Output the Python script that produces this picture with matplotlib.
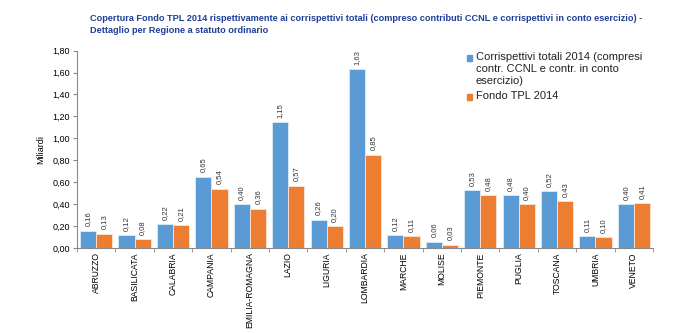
import matplotlib.pyplot as plt
from matplotlib.patches import Rectangle
import numpy as np

regioni = ["ABRUZZO", "BASILICATA", "CALABRIA", "CAMPANIA", "EMILIA-ROMAGNA",
           "LAZIO", "LIGURIA", "LOMBARDIA", "MARCHE", "MOLISE", "PIEMONTE",
           "PUGLIA", "TOSCANA", "UMBRIA", "VENETO"]
corrispettivi = [0.16, 0.12, 0.22, 0.65, 0.40, 1.15, 0.26, 1.63, 0.12, 0.06,
                 0.53, 0.48, 0.52, 0.11, 0.40]
fondo_tpl = [0.13, 0.08, 0.21, 0.54, 0.36, 0.57, 0.20, 0.85, 0.11, 0.03,
             0.48, 0.40, 0.43, 0.10, 0.41]

blu = '#5B9BD5'
arancio = '#ED7D31'

def fmt(v):
    return f"{v:.2f}".replace('.', ',')

plt.rcParams['font.family'] = ['Liberation Sans', 'DejaVu Sans']

fig = plt.figure(figsize=(7, 3.33), dpi=100)
ax = fig.add_axes([0.11, 0.255, 0.823, 0.593])

x = np.arange(len(regioni))
w = 0.42
b1 = ax.bar(x - w / 2, corrispettivi, w, color=blu, edgecolor='#DDEBF7', linewidth=0.6)
b2 = ax.bar(x + w / 2, fondo_tpl, w, color=arancio, edgecolor='#FBE5D6', linewidth=0.6)

for rects, vals in [(b1, corrispettivi), (b2, fondo_tpl)]:
    for r, v in zip(rects, vals):
        ax.text(r.get_x() + r.get_width() / 2, v + 0.04, fmt(v), rotation=90,
                ha='center', va='bottom', fontsize=5.5, color='#333333')

ax.set_xlim(-0.5, len(regioni) - 0.5)
ax.set_ylim(0, 1.8)
yt = np.arange(0, 1.81, 0.2)
ax.set_yticks(yt)
ax.set_yticklabels([fmt(v) for v in yt], fontsize=6.5)
ax.set_xticks(x)
ax.set_xticklabels(regioni, rotation=90, fontsize=6.2)
ax.tick_params(axis='x', length=0, pad=3)
ax.set_xticks(np.arange(-0.5, len(regioni)), minor=True)
ax.tick_params(axis='x', which='minor', length=3, color='#888888')
ax.tick_params(axis='y', length=3, color='#888888', pad=2)
ax.set_ylabel('Miliardi', fontsize=6.5, labelpad=5)

for s in ['top', 'right']:
    ax.spines[s].set_visible(False)
ax.spines['left'].set_color('#888888')
ax.spines['bottom'].set_color('#888888')

# legenda disegnata a mano: quadratino allineato alla prima riga
voci = [(blu, 'Corrispettivi totali 2014 (compresi\ncontr. CCNL e contr. in conto\nesercizio)', 0.962),
        (arancio, 'Fondo TPL 2014', 0.765)]
for col, testo, yy in voci:
    ax.add_patch(Rectangle((0.677, yy - 0.017), 0.009, 0.034, transform=ax.transAxes,
                           color=col, clip_on=False))
    ax.text(0.692, yy + 0.03, testo, transform=ax.transAxes, fontsize=8, va='top',
            ha='left', linespacing=1.25, color='#222222')

fig.text(0.128, 0.927, "Copertura Fondo TPL 2014 rispettivamente ai corrispettivi totali (compreso contributi CCNL e corrispettivi in conto esercizio) -\nDettaglio per Regione a statuto ordinario",
         fontsize=6.6, fontweight='bold', color='#1F3E96', va='center', ha='left', linespacing=1.4)

fig.savefig('out.png', dpi=100)
